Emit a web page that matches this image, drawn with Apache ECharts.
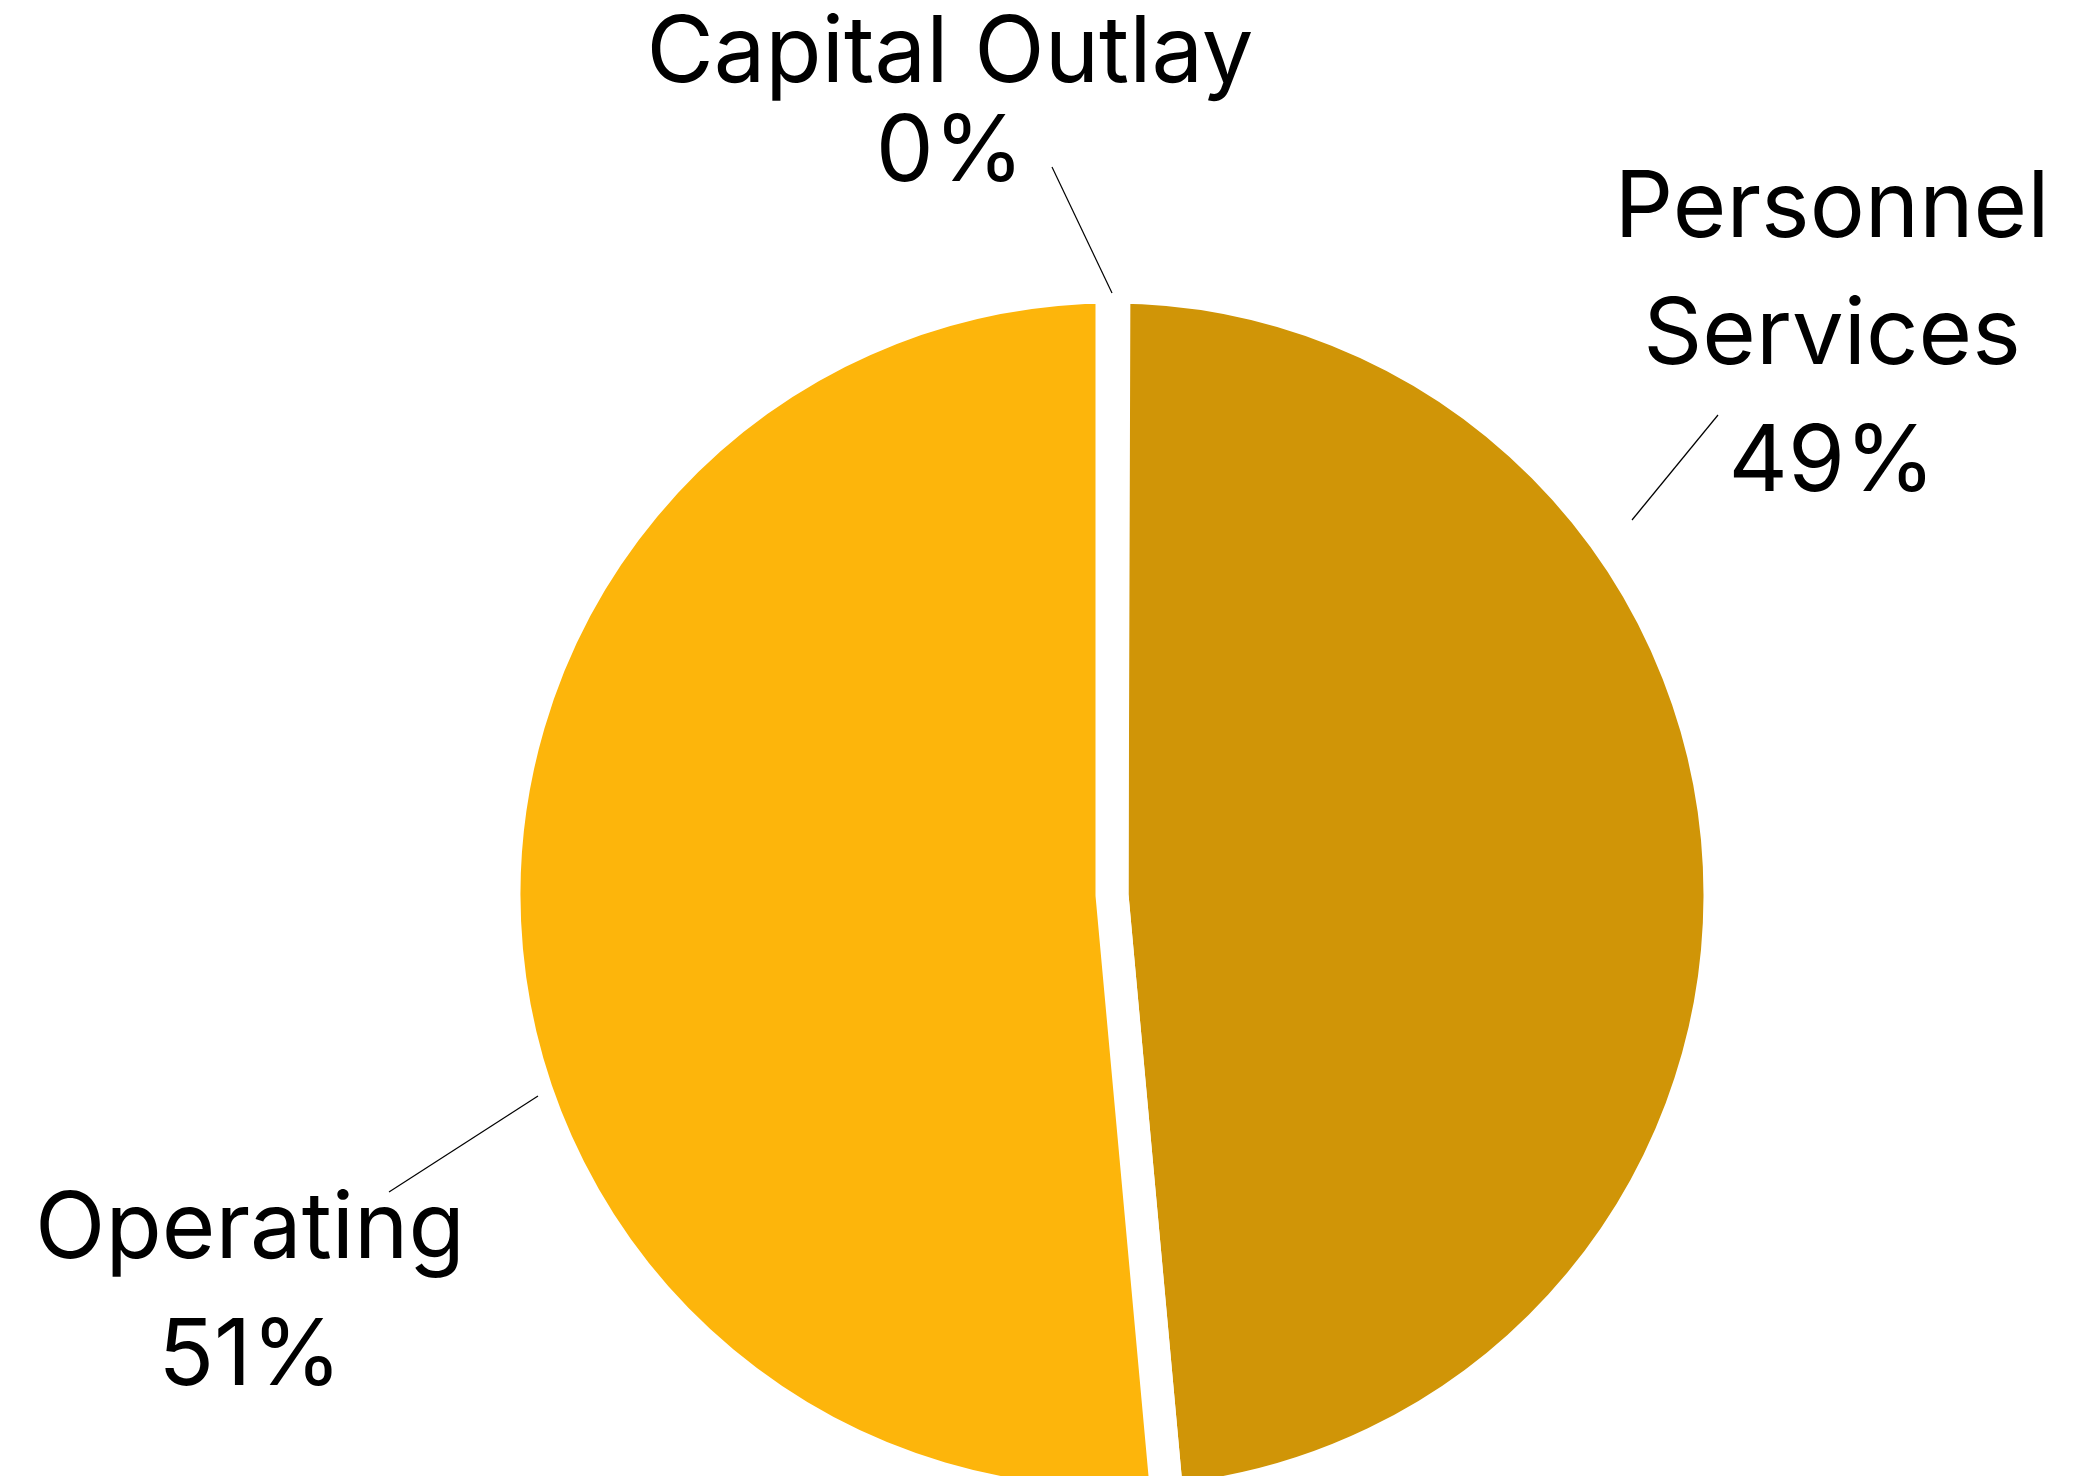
<!DOCTYPE html>
<html>
<head>
<meta charset="utf-8">
<script src="https://cdn.jsdelivr.net/npm/echarts@6/dist/echarts.min.js"></script>
<style>
html,body{margin:0;padding:0;background:#fff;}
#chart{width:2094px;height:1476px;}
</style>
</head>
<body>
<div id="chart"></div>
<script>
// Data
const categories = ['Capital Outlay', 'Personnel Services', 'Operating'];
const values = [0.05, 48.5, 51.45];
const colors = ['#FDB50B', '#D09507', '#FDB50B'];

// label layout (placement only)
const labelPlacement = [
  { x: 950, y: 104, lineHeight: 99, line: [[1112, 293], [1052, 167]] },
  { x: 1832, y: 336, lineHeight: 127, line: [[1632, 520], [1718, 415]] },
  { x: 250, y: 1294, lineHeight: 127, line: [[538, 1096], [389, 1192]] }
];
const wrapName = { 'Personnel Services': 'Personnel\nServices' };

const pieCenter = [1112, 895];
const pieRadius = 608;

const chart = echarts.init(document.getElementById('chart'), null, { renderer: 'canvas' });
chart.setOption({
  backgroundColor: '#ffffff',
  animation: false,
  series: [
    {
      // slices with white separating gap
      type: 'pie',
      z: 1,
      center: pieCenter,
      radius: pieRadius,
      startAngle: 90,
      clockwise: true,
      silent: true,
      label: { show: false },
      labelLine: { show: false },
      data: categories.map((c, i) => ({
        name: c,
        value: values[i],
        itemStyle: { color: colors[i] }
      })),
      itemStyle: { borderColor: '#ffffff', borderWidth: 33 }
    },
    {
      // labels and leader lines drawn on top
      type: 'pie',
      z: 5,
      center: pieCenter,
      radius: pieRadius,
      startAngle: 90,
      clockwise: true,
      silent: true,
      avoidLabelOverlap: false,
      percentPrecision: 0,
      data: categories.map((c, i) => ({
        name: c,
        value: values[i],
        itemStyle: { color: 'rgba(0,0,0,0)' },
        label: { lineHeight: labelPlacement[i].lineHeight }
      })),
      itemStyle: { borderWidth: 0 },
      label: {
        show: true,
        position: 'outside',
        color: '#000000',
        fontFamily: 'Inter',
        fontWeight: 400,
        fontSize: 92,
        align: 'center',
        formatter: p => (wrapName[p.name] || p.name) + '\n' + p.percent + '%'
      },
      labelLine: {
        show: true,
        length: 20,
        length2: 0,
        lineStyle: { color: '#000000', width: 1.2 }
      },
      labelLayout: function (p) {
        const L = labelPlacement[p.dataIndex];
        return {
          x: L.x, y: L.y,
          align: 'center', verticalAlign: 'middle',
          labelLinePoints: L.line
        };
      }
    }
  ]
});
</script>
</body>
</html>
